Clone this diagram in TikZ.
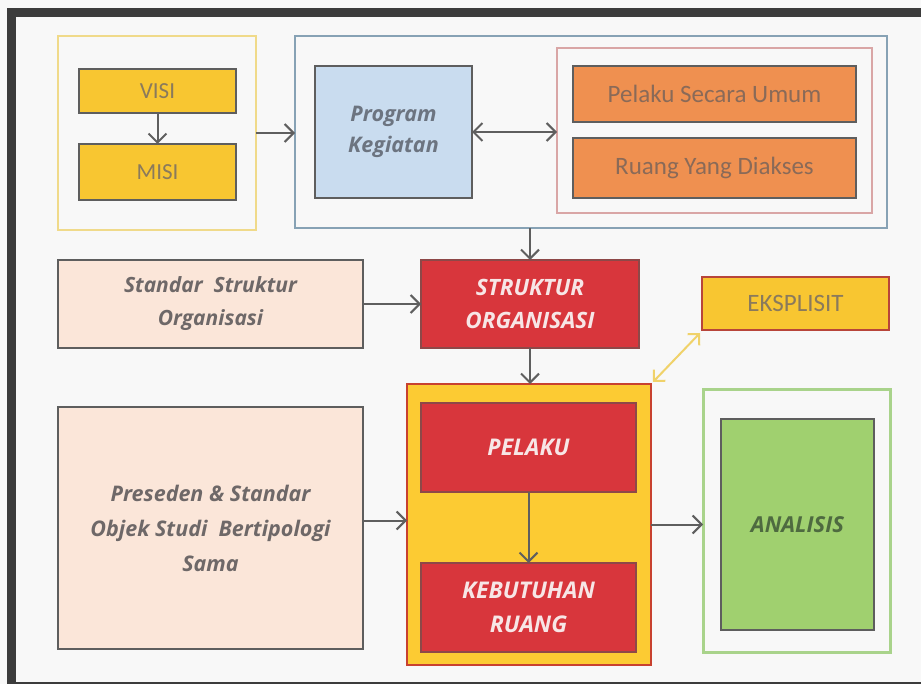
\documentclass[tikz,border=0pt]{standalone}
\usepackage{fontspec}
\setmainfont{Carlito}
\newfontfamily\osans{Open Sans}
\usetikzlibrary{arrows.meta,calc}

% palette
\definecolor{framegray}{HTML}{3C3C3C}
\definecolor{paper}{HTML}{F8F8F8}
\definecolor{boxline}{HTML}{5E5E5E}
\definecolor{linkgray}{HTML}{5F5F5F}
\definecolor{gold}{HTML}{F8C631}
\definecolor{goldedge}{HTML}{F0DA8A}
\definecolor{goldtext}{HTML}{8A7A5C}
\definecolor{steel}{HTML}{87A2B5}
\definecolor{skyfill}{HTML}{C9DCEF}
\definecolor{skytext}{HTML}{6C7480}
\definecolor{rosedge}{HTML}{D9A6A6}
\definecolor{orangefill}{HTML}{EF9050}
\definecolor{orangetext}{HTML}{8A6A58}
\definecolor{peach}{HTML}{FBE6D9}
\definecolor{peachtext}{HTML}{6E6868}
\definecolor{redfill}{HTML}{D8363C}
\definecolor{rededge}{HTML}{8E4848}
\definecolor{redtext}{HTML}{F7E6E6}
\definecolor{amber}{HTML}{FCCB33}
\definecolor{amberedge}{HTML}{C8412F}
\definecolor{ekedge}{HTML}{B8453A}
\definecolor{ekarrow}{HTML}{F0D26A}
\definecolor{leafedge}{HTML}{A9D38B}
\definecolor{leaffill}{HTML}{A0D06F}
\definecolor{leaftext}{HTML}{4E6A40}

\begin{document}
\begin{tikzpicture}[x=1pt,y=-1pt,
  panel/.style={inner sep=0pt, outer sep=0pt, align=center},
  boxed/.style={panel, draw=boxline, line width=1.6pt},
  plain/.style={font=\fontsize{23}{28}\selectfont},
  plainbig/.style={font=\fontsize{25}{30}\selectfont},
  slanted/.style={font=\osans\bfseries\itshape\fontsize{21}{33}\selectfont},
  capsbold/.style={font=\osans\bfseries\itshape\fontsize{22.5}{33}\selectfont},
  link/.style={draw=linkgray, line width=2pt,
    -{Straight Barb[length=9pt,width=18pt]}},
  twoway/.style={draw=linkgray, line width=2pt,
    {Straight Barb[length=9pt,width=18pt]}-{Straight Barb[length=9pt,width=18pt]}}
]
\clip (0,0) rectangle (921,684);
\useasboundingbox (0,0) rectangle (921,684);
\fill[paper] (0,0) rectangle (921,684);
\draw[framegray, line width=9pt] (11.5,13) rectangle (940,686);

% top row: vision and mission
\node[panel, draw=goldedge, line width=1.4pt, minimum width=198, minimum height=194] (vm) at (157,133) {};
\node[boxed, plain, fill=gold, text=goldtext, minimum width=157, minimum height=44] (visi) at (157.5,91) {VISI};
\node[boxed, plain, fill=gold, text=goldtext, minimum width=157, minimum height=56] (misi) at (157.5,172) {MISI};

% top row: programme block
\node[panel, draw=steel, line width=2pt, minimum width=592, minimum height=192] (prgblock) at (591,132) {};
\node[boxed, font=\osans\bfseries\itshape\fontsize{21.5}{31}\selectfont, fill=skyfill, text=skytext, minimum width=157, minimum height=132] (prog) at (393.5,132) {Program\\Kegiatan};
\node[panel, draw=rosedge, line width=1.2pt, minimum width=315, minimum height=165] (actors) at (714.5,130.5) {};
\node[boxed, plainbig, fill=orangefill, text=orangetext, minimum width=283, minimum height=56] (umum) at (714.5,94) {Pelaku Secara Umum};
\node[boxed, plainbig, fill=orangefill, text=orangetext, minimum width=283, minimum height=60] (ruang) at (714.5,168) {Ruang Yang Diakses};

% middle row
\node[boxed, slanted, fill=peach, text=peachtext, minimum width=305, minimum height=88] (standar) at (210.5,304) {Standar\ \ Struktur\\Organisasi};
\node[boxed, capsbold, draw=rededge, fill=redfill, text=redtext, minimum width=218, minimum height=88] (struktur) at (530,304) {STRUKTUR\\ORGANISASI};
\node[panel, draw=ekedge, line width=1.8pt, plainbig, fill=gold, text=goldtext, minimum width=187, minimum height=53] (eks) at (795.5,303.5) {EKSPLISIT};

% bottom row
\node[boxed, slanted, font=\osans\bfseries\itshape\fontsize{21.5}{35}\selectfont, fill=peach, text=peachtext, minimum width=305, minimum height=242] (preseden) at (210.5,528)
  {Preseden \& Standar\\Objek Studi\ \ Bertipologi\\Sama};
\node[panel, draw=amberedge, line width=1.8pt, fill=amber, minimum width=244, minimum height=281] (need) at (529,524.5) {};
\node[boxed, capsbold, font=\osans\bfseries\itshape\fontsize{23}{34}\selectfont, draw=rededge, fill=redfill, text=redtext, minimum width=215, minimum height=89] (pelaku) at (528.5,447.5) {PELAKU};
\node[boxed, capsbold, font=\osans\bfseries\itshape\fontsize{23}{34}\selectfont, draw=rededge, fill=redfill, text=redtext, minimum width=215, minimum height=89] (kebutuhan) at (528.5,607.5) {KEBUTUHAN\\RUANG};
\node[panel, draw=leafedge, line width=3pt, minimum width=187, minimum height=262] (result) at (796.5,521) {};
\node[boxed, font=\osans\bfseries\itshape\fontsize{22}{30}\selectfont, draw=boxline, fill=leaffill, text=leaftext, minimum width=153, minimum height=211] (analisis) at (797.5,524.5) {ANALISIS};

% connectors
\draw[link] (visi.south) -- (misi.north);
\draw[link] (vm.east) -- (vm.east -| prgblock.west);
\draw[twoway] (prog.east) -- (prog.east -| actors.west);
\draw[link] (struktur.north |- prgblock.south) -- (struktur.north);
\draw[link] (standar.east) -- (standar.east -| struktur.west);
\draw[link] (struktur.south) -- (struktur.south |- need.north);
\draw[link] (pelaku.south) -- (kebutuhan.north);
\draw[link] ($(need.west -| preseden.east)+(0,-4)$) -- ($(need.west)+(0,-4)$);
\draw[link] (need.east) -- (need.east -| result.west);
\draw[draw=ekarrow, line width=2pt,
  {Straight Barb[length=8pt,width=16pt]}-{Straight Barb[length=8pt,width=16pt]}]
  ($(eks.south west)+(-2,3)$) -- ($(need.north east)+(2,-2)$);
\end{tikzpicture}
\end{document}
